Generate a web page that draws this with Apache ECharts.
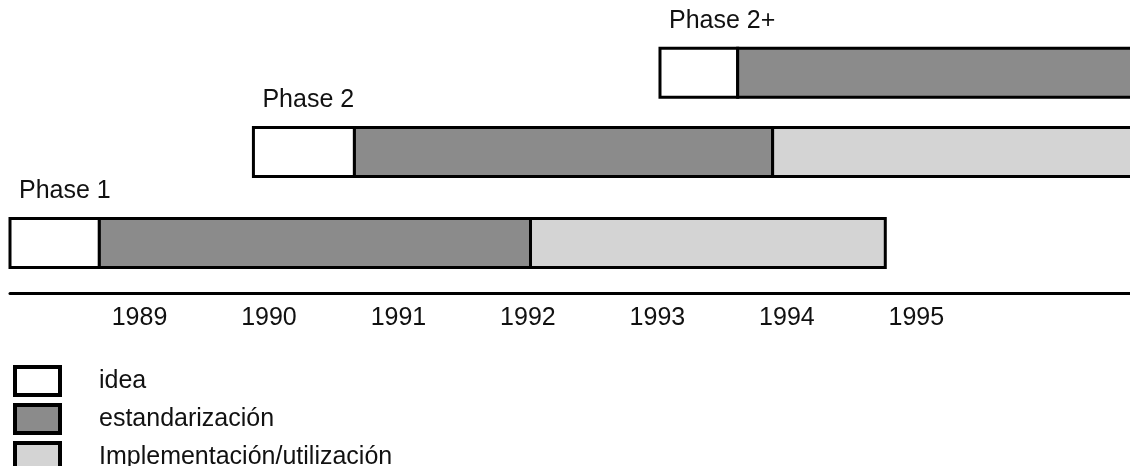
<!DOCTYPE html>
<html>
<head>
<meta charset="utf-8">
<script src="https://cdn.jsdelivr.net/npm/echarts@6/dist/echarts.min.js"></script>
<style>
  html, body { margin: 0; padding: 0; background: #fff; }
  #main { width: 1130px; height: 466px; }
</style>
</head>
<body>
<div id="main"></div>
<script>
// phases, drawn bottom to top
const phases = ['Phase 1', 'Phase 2', 'Phase 2+'];
const rowLevel = [0.55, 1.55, 2.42];

// years where each stage starts / ends (null = stage not shown)
const ideaStart = [1988.0, 1989.88, 1993.02];
const estandarStart = [1988.69, 1990.66, 1993.62];
const implStart = [1992.02, 1993.89, null];
const phaseEnd = [1994.76, 1997.5, 1997.5];

const yearLabels = [1989, 1990, 1991, 1992, 1993, 1994, 1995];
const stageNames = ['idea', 'estandarización', 'Implementación/utilización'];
const stageColors = ['#ffffff', '#8b8b8b', '#d4d4d4'];

const barSize = 0.54;
const font = '"Liberation Sans", Arial, sans-serif';

function segments(stage) {
  const out = [];
  for (let i = 0; i < phases.length; i++) {
    const starts = [ideaStart[i], estandarStart[i], implStart[i]];
    const s = starts[stage];
    if (s == null) continue;
    let e = phaseEnd[i];
    for (let k = stage + 1; k < 3; k++) {
      if (starts[k] != null) { e = starts[k]; break; }
    }
    out.push([s, e, rowLevel[i]]);
  }
  return out;
}

function renderSegment(params, api) {
  const a = api.coord([api.value(0), api.value(2)]);
  const b = api.coord([api.value(1), api.value(2)]);
  const h = api.size([0, barSize])[1];
  return {
    type: 'rect',
    shape: { x: a[0], y: a[1] - h / 2, width: b[0] - a[0], height: h },
    style: { fill: api.visual('color'), stroke: '#000', lineWidth: 3 }
  };
}

function renderPhaseLabel(params, api) {
  const p = api.coord([api.value(0), api.value(1)]);
  const h = api.size([0, barSize])[1];
  return {
    type: 'text',
    x: p[0] + 9,
    y: p[1] - h / 2 - 27,
    style: {
      text: phases[params.dataIndex],
      font: '25px ' + font,
      fill: '#111',
      verticalAlign: 'middle',
      align: 'left'
    }
  };
}

const chart = echarts.init(document.getElementById('main'));

const series = stageNames.map((name, idx) => ({
  name: name,
  type: 'custom',
  renderItem: renderSegment,
  itemStyle: { color: stageColors[idx], borderColor: '#000', borderWidth: 3 },
  encode: { x: [0, 1], y: 2 },
  data: segments(idx),
  silent: true
}));

series.push({
  type: 'custom',
  renderItem: renderPhaseLabel,
  encode: { x: 0, y: 1 },
  data: phases.map((p, i) => [ideaStart[i], rowLevel[i]]),
  silent: true
});

// one legend per stage so the last row may run off the bottom edge like the original
const legendTops = [365, 403, 441];
const legends = stageNames.map((name, idx) => ({
  orient: 'vertical',
  left: 13,
  top: legendTops[idx],
  padding: 0,
  itemWidth: 45,
  itemHeight: 28,
  selectedMode: false,
  icon: 'rect',
  textStyle: {
    fontFamily: font,
    fontSize: 25,
    lineHeight: 28,
    color: '#111',
    padding: [0, 0, 0, 34]
  },
  data: [{
    name: name,
    itemStyle: { color: stageColors[idx], borderColor: '#000', borderWidth: 4 }
  }]
}));

chart.setOption({
  animation: false,
  backgroundColor: '#fff',
  grid: { left: 10, right: 0, top: 0, bottom: 173 },
  xAxis: {
    type: 'value',
    min: 1988,
    max: 1996.65,
    interval: 1,
    axisLine: { show: true, onZero: false, lineStyle: { color: '#000', width: 3 } },
    axisTick: { show: false },
    splitLine: { show: false },
    axisLabel: {
      margin: 13,
      fontSize: 25,
      fontFamily: font,
      color: '#111',
      showMinLabel: false,
      showMaxLabel: false,
      formatter: v => (yearLabels.indexOf(v) >= 0 ? String(v) : '')
    }
  },
  yAxis: {
    type: 'value',
    min: 0,
    max: 3.22,
    show: false
  },
  legend: legends,
  series: series
});
</script>
</body>
</html>
